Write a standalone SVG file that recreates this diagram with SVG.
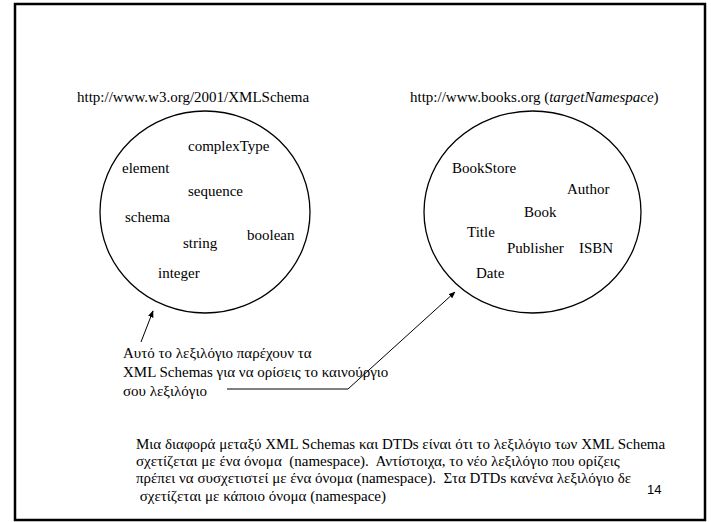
<svg xmlns="http://www.w3.org/2000/svg" width="711" height="522" viewBox="0 0 711 522">
<style>
.t{font-family:"Liberation Serif","Times New Roman",serif;font-size:15px;fill:#000}
.s{font-family:"Liberation Sans",Arial,sans-serif;font-size:13px;fill:#000}
.c{fill:none;stroke:#000;stroke-width:1.3}
.l{fill:none;stroke:#000;stroke-width:1}
</style>
<defs>
<marker id="ah" viewBox="0 0 10 10" refX="9" refY="5" markerWidth="7" markerHeight="7" orient="auto" markerUnits="userSpaceOnUse"><path d="M0,1 L10,5 L0,9 z" fill="#000"/></marker>
</defs>
<rect x="0" y="0" width="711" height="522" fill="#fff"/>
<rect x="15" y="4" width="690" height="516" fill="none" stroke="#000" stroke-width="2.5"/>
<g id="xmlschema">
<text class="t" x="77" y="102">http://www.w3.org/2001/XMLSchema</text>
<ellipse class="c" cx="205" cy="212" rx="105" ry="101"/>
<text class="t" x="188" y="151">complexType</text>
<text class="t" x="122" y="173">element</text>
<text class="t" x="188" y="196">sequence</text>
<text class="t" x="125" y="222">schema</text>
<text class="t" x="247" y="240">boolean</text>
<text class="t" x="183" y="248">string</text>
<text class="t" x="158" y="278">integer</text>
</g>
<g id="books">
<text class="t" x="410" y="102">http://www.books.org (<tspan font-style="italic">targetNamespace</tspan>)</text>
<ellipse class="c" cx="532.5" cy="212" rx="108.5" ry="101"/>
<text class="t" x="452" y="173">BookStore</text>
<text class="t" x="567" y="194">Author</text>
<text class="t" x="524" y="217">Book</text>
<text class="t" x="467" y="237">Title</text>
<text class="t" x="507" y="253">Publisher</text>
<text class="t" x="579" y="253">ISBN</text>
<text class="t" x="476" y="278">Date</text>
</g>
<g id="note">
<text class="t" x="123" y="358">Αυτό το λεξιλόγιο παρέχουν τα</text>
<text class="t" x="123" y="377">XML Schemas για να ορίσεις το καινούργιο</text>
<text class="t" x="123" y="396">σου λεξιλόγιο</text>
</g>
<g id="connectors">
<line class="l" x1="141" y1="342" x2="153" y2="311" marker-end="url(#ah)"/>
<polyline class="l" points="227,389 348,389 455,292" marker-end="url(#ah)"/>
</g>
<g id="footer">
<text class="t" x="136" y="449">Μια διαφορά μεταξύ XML Schemas και DTDs είναι ότι το λεξιλόγιο των XML Schema</text>
<text class="t" x="136" y="466" xml:space="preserve">σχετίζεται με ένα όνομα  (namespace).  Αντίστοιχα, το νέο λεξιλόγιο που ορίζεις</text>
<text class="t" x="136" y="483" xml:space="preserve">πρέπει να συσχετιστεί με ένα όνομα (namespace).  Στα DTDs κανένα λεξιλόγιο δε</text>
<text class="t" x="136" y="501" xml:space="preserve"> σχετίζεται με κάποιο όνομα (namespace)</text>
<text class="s" x="647" y="494">14</text>
</g>
</svg>
